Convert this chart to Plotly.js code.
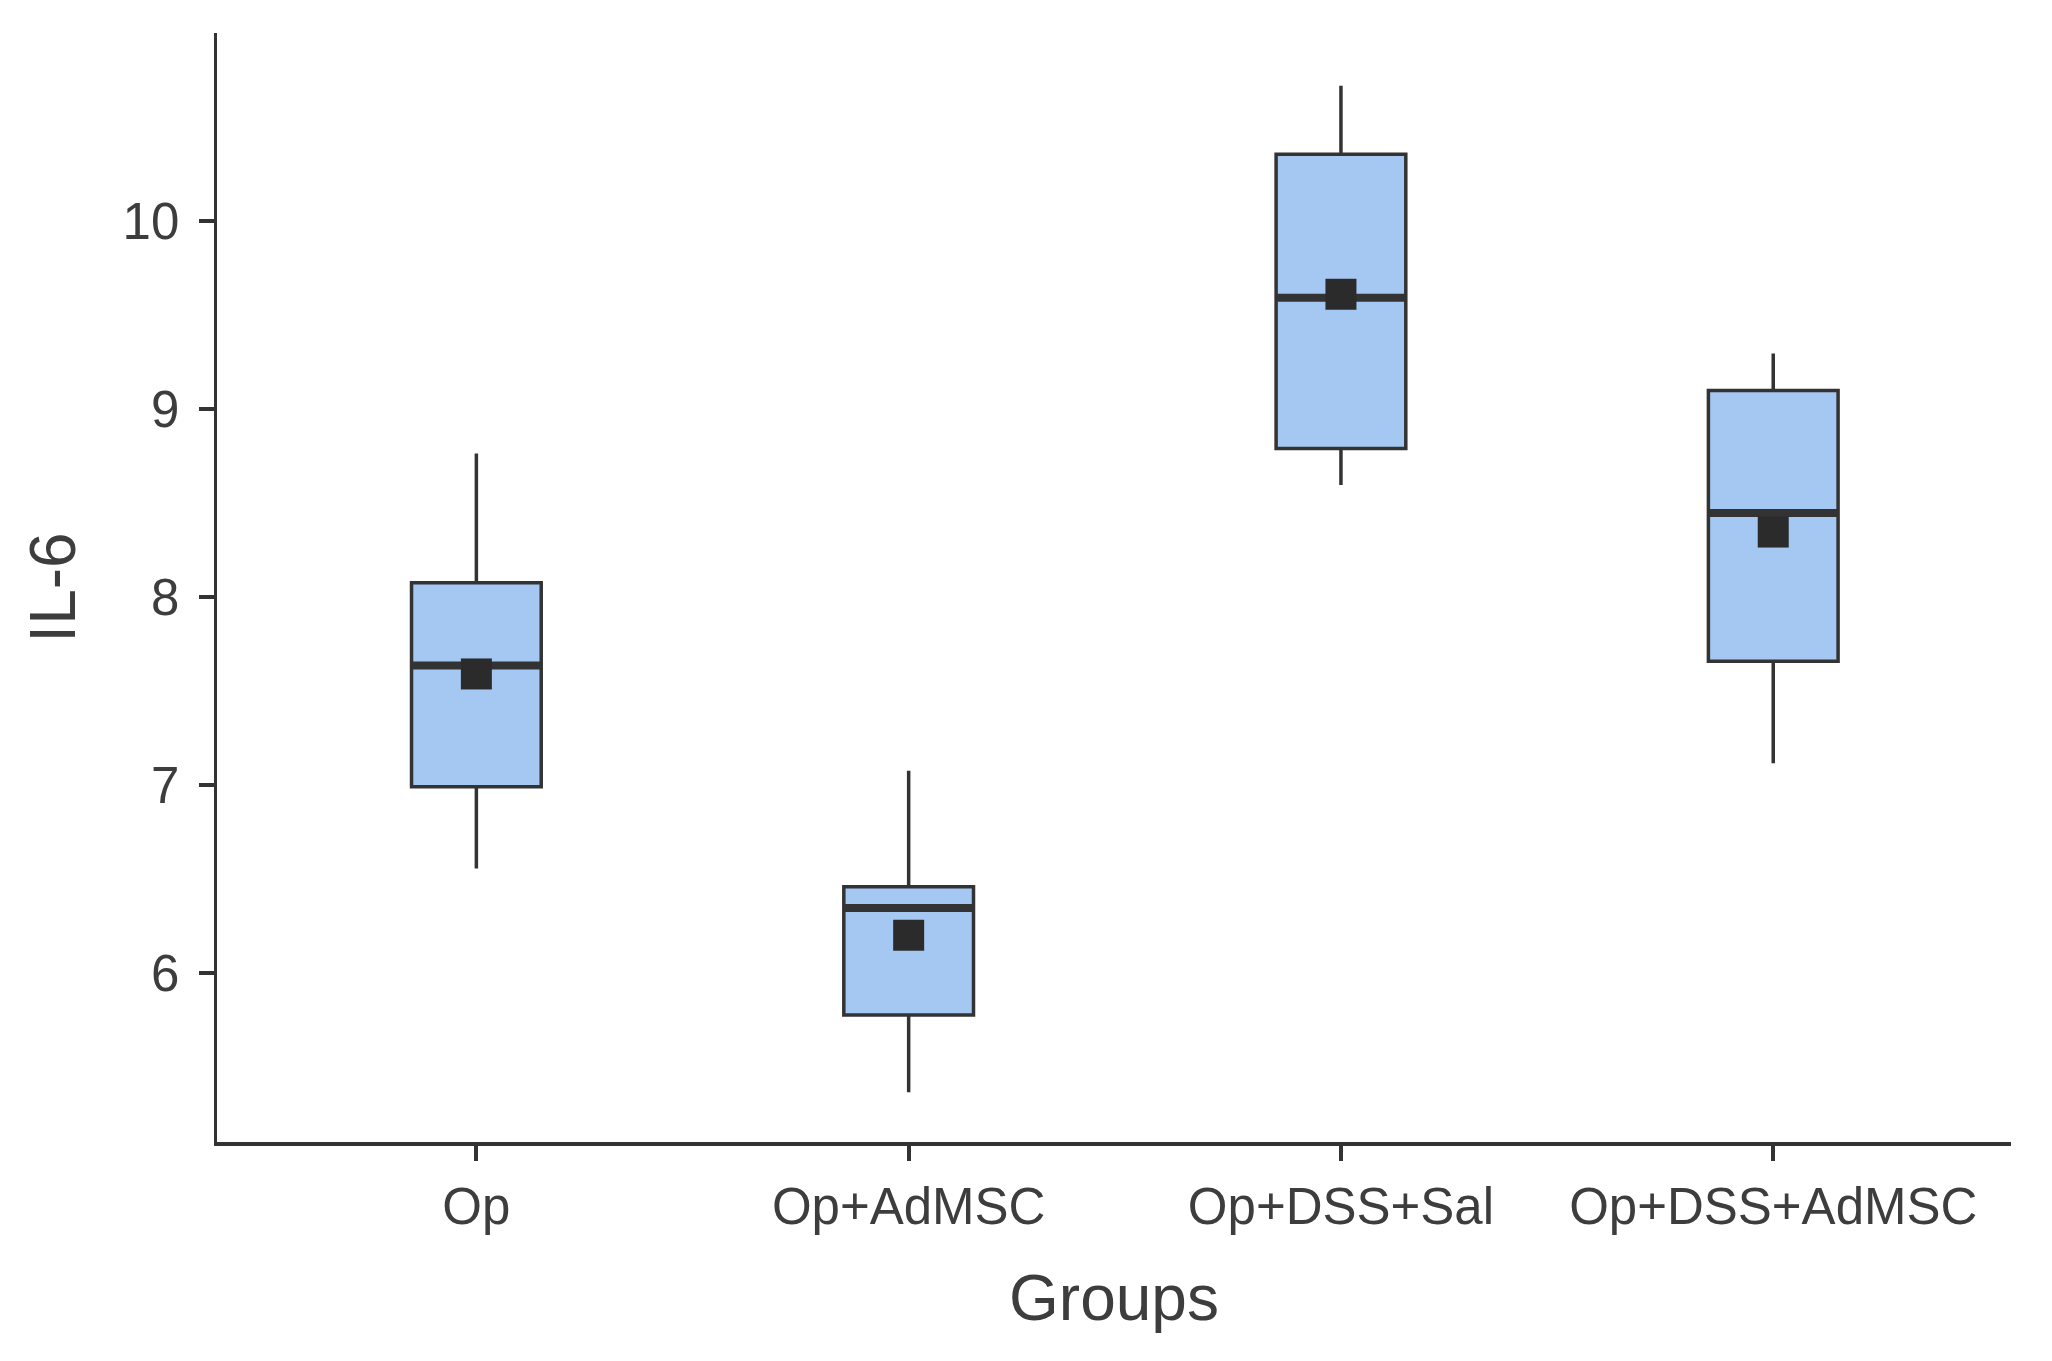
<!DOCTYPE html>
<html>
<head>
<meta charset="utf-8">
<script src="https://cdn.plot.ly/plotly-3.0.1.min.js"></script>
<style>html,body{margin:0;padding:0;background:#fff;}#chart{width:2052px;height:1361px;}</style>
</head>
<body>
<div id="chart"></div>
<script>
const categories = ["Op", "Op+AdMSC", "Op+DSS+Sal", "Op+DSS+AdMSC"];
const lowerWhisker = [6.555, 5.365, 8.595, 7.115];
const q1Values = [6.99, 5.775, 8.79, 7.658];
const medianValues = [7.635, 6.345, 9.592, 8.447];
const q3Values = [8.075, 6.458, 10.355, 9.098];
const upperWhisker = [8.763, 7.075, 10.72, 9.295];
const meanValues = [7.59, 6.20, 9.61, 8.345];
const yTickValues = [6, 7, 8, 9, 10];

const idx = categories.map((c, i) => i);
const boxWidth = 0.3;
const ink = "#333333";
const textCol = "#3d3d3d";
const fontFam = "Liberation Sans, Arial, sans-serif";

const medX = [], medY = [];
idx.forEach(i => {
  medX.push(i - boxWidth / 2, i + boxWidth / 2, null);
  medY.push(medianValues[i], medianValues[i], null);
});

const traces = [
  {
    type: "box",
    x: idx,
    q1: q1Values,
    median: medianValues,
    q3: q3Values,
    lowerfence: lowerWhisker,
    upperfence: upperWhisker,
    width: boxWidth,
    whiskerwidth: 0,
    fillcolor: "#a5c8f2",
    line: { color: ink, width: 3.5 },
    boxpoints: false,
    hoverinfo: "skip",
    showlegend: false
  },
  {
    type: "scatter",
    mode: "lines",
    x: medX,
    y: medY,
    line: { color: ink, width: 8 },
    hoverinfo: "skip",
    showlegend: false
  },
  {
    type: "scatter",
    mode: "markers",
    x: idx,
    y: meanValues,
    marker: { symbol: "square", size: 31, color: "#2b2b2b", line: { width: 0 } },
    hoverinfo: "skip",
    showlegend: false
  }
];

const layout = {
  width: 2052,
  height: 1361,
  paper_bgcolor: "#ffffff",
  plot_bgcolor: "#ffffff",
  margin: { l: 217, r: 41, t: 33, b: 219 },
  font: { family: fontFam, color: textCol },
  showlegend: false,
  xaxis: {
    type: "linear",
    range: [-0.6, 3.55],
    tickvals: idx,
    ticktext: categories,
    showgrid: false,
    zeroline: false,
    showline: true,
    linecolor: ink,
    linewidth: 3.5,
    ticks: "outside",
    ticklen: 15,
    tickwidth: 4,
    tickcolor: ink,
    ticklabelstandoff: 2,
    tickfont: { size: 51, color: textCol, family: fontFam },
    title: { text: "Groups", font: { size: 64, color: textCol, family: fontFam }, standoff: 42 },
    automargin: false
  },
  yaxis: {
    range: [5.1, 11.0],
    tickvals: yTickValues,
    showgrid: false,
    zeroline: false,
    showline: true,
    linecolor: ink,
    linewidth: 3.5,
    ticks: "outside",
    ticklen: 15,
    tickwidth: 4,
    tickcolor: ink,
    ticklabelstandoff: 9,
    tickfont: { size: 51, color: textCol, family: fontFam },
    title: { text: "IL-6", font: { size: 64, color: textCol, family: fontFam }, standoff: 27 },
    automargin: false
  }
};

Plotly.newPlot("chart", traces, layout, { displayModeBar: false, staticPlot: true });
</script>
</body>
</html>
